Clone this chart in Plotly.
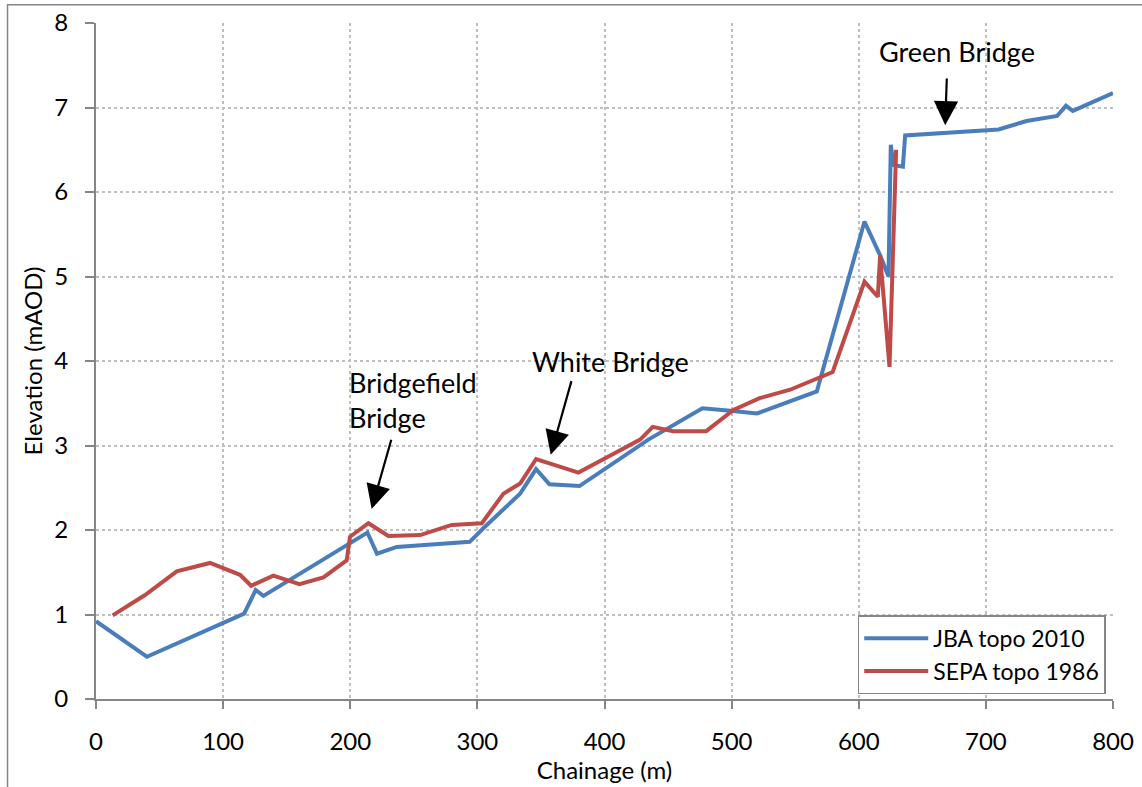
import plotly.graph_objects as go

# JBA topo 2010
jba_chainage = [0, 40, 116.5, 125.6, 131.7, 213.5, 221, 236.6, 294, 304.7, 333.6, 346.2, 356.7, 380.3,
                434.5, 477, 499, 520, 567, 604.5, 616.8, 623.4, 625.2, 627.3, 634.7, 636.5,
                710, 732, 756, 763, 768.4, 800]
jba_elev = [0.92, 0.50, 1.01, 1.29, 1.22, 1.97, 1.72, 1.80, 1.86, 2.02, 2.43, 2.72, 2.54, 2.52,
            3.07, 3.44, 3.41, 3.38, 3.64, 5.65, 5.25, 5.00, 6.56, 6.32, 6.30, 6.67,
            6.74, 6.84, 6.90, 7.02, 6.96, 7.17]

# SEPA topo 1986
sepa_chainage = [13.1, 38.6, 63.5, 89.7, 113.3, 122, 139.5, 160, 178.9, 197.2, 199.8, 214.3, 230,
                 255, 279.8, 303.5, 320.5, 333.6, 346.2, 359.8, 379.5, 405.7, 428, 438, 454, 480,
                 501.4, 522, 546, 579.5, 604.5, 615, 616.8, 624.2, 629.4]
sepa_elev = [0.99, 1.23, 1.51, 1.61, 1.47, 1.34, 1.46, 1.36, 1.44, 1.64, 1.92, 2.08, 1.93,
             1.94, 2.06, 2.08, 2.43, 2.55, 2.84, 2.77, 2.68, 2.89, 3.07, 3.22, 3.17, 3.17,
             3.42, 3.56, 3.66, 3.87, 4.94, 4.76, 5.25, 3.93, 6.50]

x_ticks = [0, 100, 200, 300, 400, 500, 600, 700, 800]
y_ticks = [0, 1, 2, 3, 4, 5, 6, 7, 8]

# annotations: label, text position, arrow tail, arrow tip
labels = ["Green Bridge", "White Bridge", "Bridgefield<br>Bridge"]
label_x = [677.5, 404.4, 197.5]
label_y = [7.66, 4.0, 3.54]
label_anchor = ["center", "center", "left"]
arrow_tail_x = [669.3, 374.3, 232.6]
arrow_tail_y = [7.36, 3.78, 3.085]
arrow_tip_x = [668, 357.7, 216.8]
arrow_tip_y = [6.79, 2.89, 2.25]

FONT = "Lato, Calibri, sans-serif"

fig = go.Figure()
fig.add_trace(go.Scatter(x=jba_chainage, y=jba_elev, mode="lines", name="JBA topo 2010",
                         line=dict(color="#4A7EBB", width=4)))
fig.add_trace(go.Scatter(x=sepa_chainage, y=sepa_elev, mode="lines", name="SEPA topo 1986",
                         line=dict(color="#BE4B48", width=4)))

annotations = []
for t, lx, ly, anc in zip(labels, label_x, label_y, label_anchor):
    annotations.append(dict(x=lx, y=ly, xref="x", yref="y", text=t, showarrow=False,
                            xanchor=anc, yanchor="middle", align="left",
                            font=dict(family=FONT, size=27, color="black")))
for tx, ty, hx, hy in zip(arrow_tail_x, arrow_tail_y, arrow_tip_x, arrow_tip_y):
    annotations.append(dict(x=hx, y=hy, xref="x", yref="y", ax=tx, ay=ty, axref="x", ayref="y",
                            text="", showarrow=True, arrowhead=2, arrowsize=2.2, arrowwidth=2.2,
                            arrowcolor="black"))

fig.update_layout(
    width=1142, height=787,
    margin=dict(l=96, r=29, t=23, b=88),
    paper_bgcolor="white", plot_bgcolor="white",
    font=dict(family=FONT, size=24, color="black"),
    showlegend=True,
    legend=dict(x=0.749, y=0.124, xanchor="left", yanchor="top",
                bgcolor="white", bordercolor="#868686", borderwidth=1.5,
                font=dict(family=FONT, size=23, color="black"), itemwidth=64,
                tracegroupgap=0),
    annotations=annotations,
    shapes=[dict(type="rect", xref="paper", yref="paper", x0=-0.087, x1=1.05, y0=-0.2, y1=1.027,
                 line=dict(color="#868686", width=1.5), fillcolor="rgba(0,0,0,0)", layer="below")],
)
fig.update_xaxes(range=[0, 800], tickvals=x_ticks, showgrid=True, gridcolor="#BFBFBF",
                 griddash="dot", gridwidth=1.5, zeroline=False, showline=True, linecolor="#868686",
                 linewidth=2, ticks="outside", ticklen=8, tickcolor="#868686", tickwidth=2,
                 ticklabelstandoff=12, automargin=False,
                 tickfont=dict(size=24), title=dict(text="Chainage (m)", font=dict(size=24), standoff=2))
fig.update_yaxes(range=[0, 8], tickvals=y_ticks, showgrid=True, gridcolor="#BFBFBF",
                 griddash="dot", gridwidth=1.5, zeroline=False, showline=True, linecolor="#868686",
                 linewidth=2, ticks="outside", ticklen=9, tickcolor="#868686", tickwidth=2,
                 ticklabelstandoff=12, automargin=False,
                 tickfont=dict(size=24), title=dict(text="Elevation (mAOD)", font=dict(size=24), standoff=5))

fig.write_html("out.html")
